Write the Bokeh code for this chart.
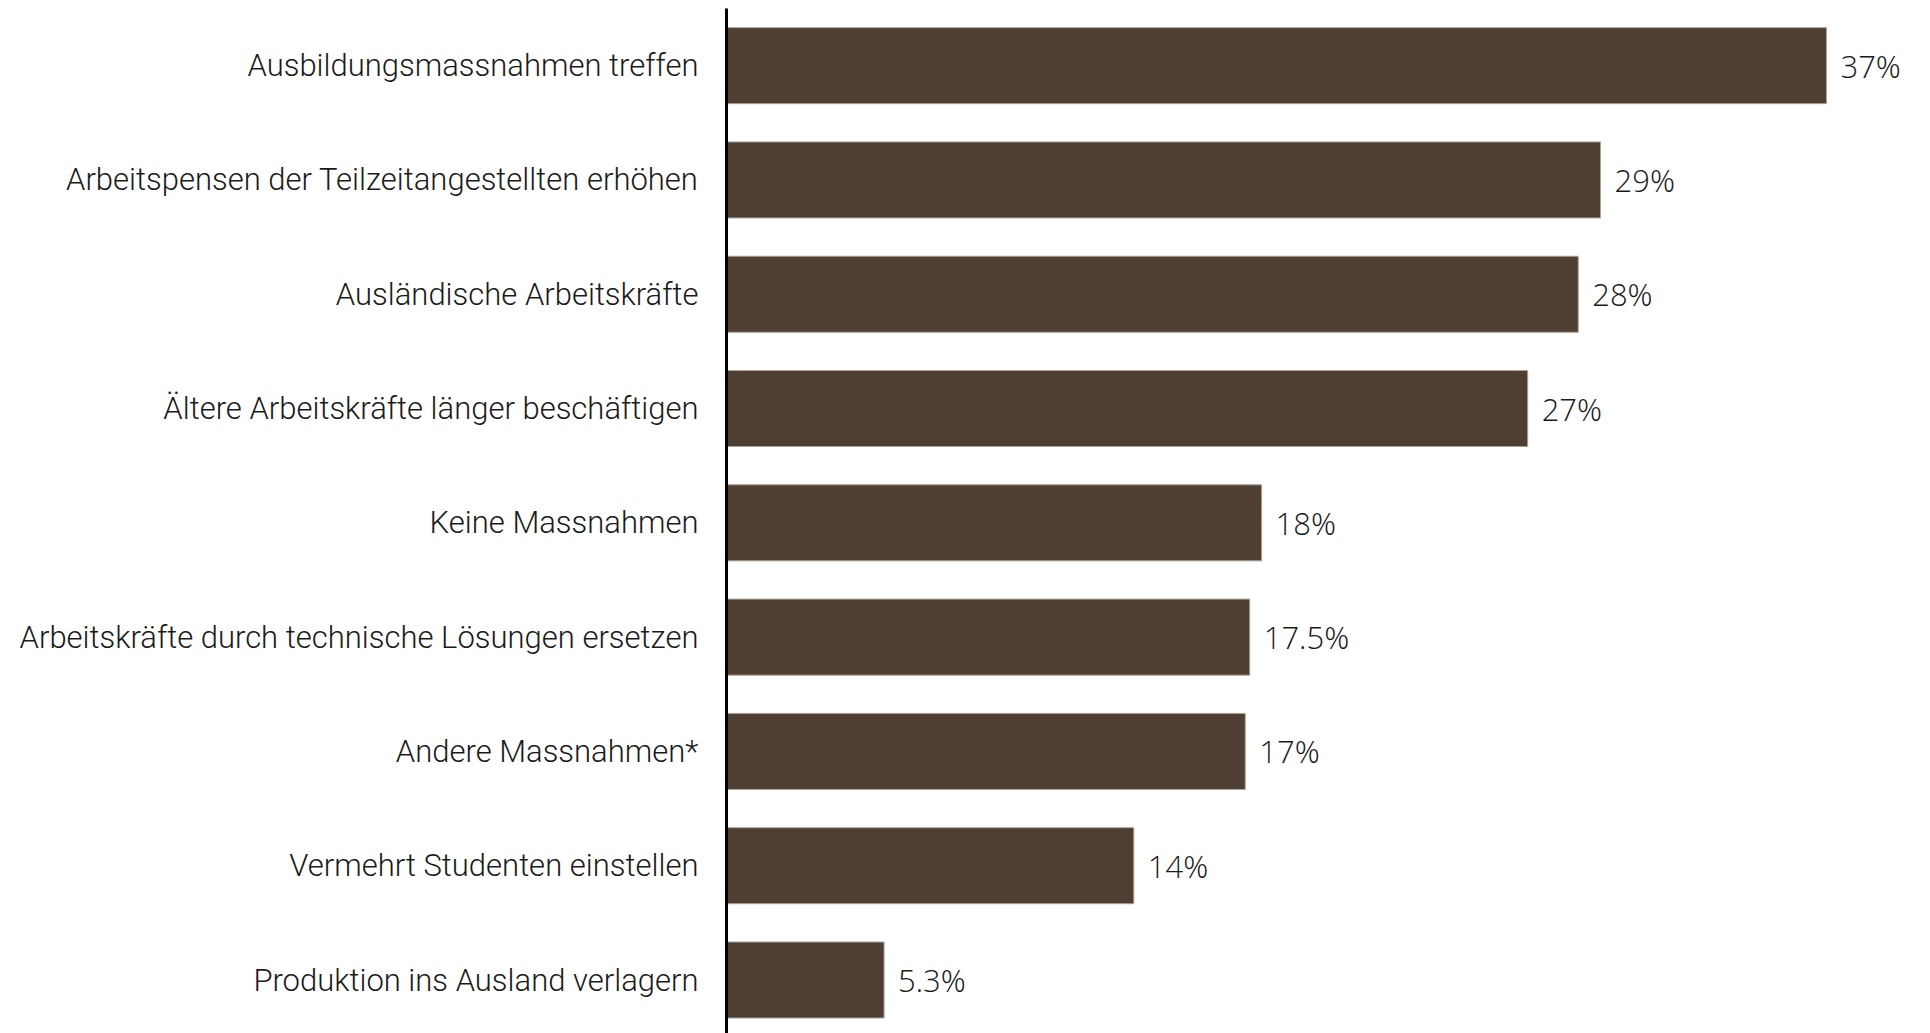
from bokeh.plotting import figure
from bokeh.models import Range1d, FixedTicker, ColumnDataSource, LabelSet
from bokeh.core.properties import value
from bokeh.embed import file_html
from bokeh.resources import INLINE

categories = [
    "Ausbildungsmassnahmen treffen",
    "Arbeitspensen der Teilzeitangestellten erhöhen",
    "Ausländische Arbeitskräfte",
    "Ältere Arbeitskräfte länger beschäftigen",
    "Keine Massnahmen",
    "Arbeitskräfte durch technische Lösungen ersetzen",
    "Andere Massnahmen*",
    "Vermehrt Studenten einstellen",
    "Produktion ins Ausland verlagern",
]
values = [37.0, 29.4, 28.65, 26.95, 18.0, 17.6, 17.45, 13.7, 5.3]
value_labels = ["37%", "29%", "28%", "27%", "18%", "17.5%", "17%", "14%", "5.3%"]

positions = list(range(len(categories)))

src = ColumnDataSource(dict(y=positions, v=values, lab=value_labels))

W, H = 1930, 1033
p = figure(width=W, height=H, output_backend="svg", toolbar_location=None,
           x_range=Range1d(0, 40.50), y_range=Range1d(8.468, -0.5),
           min_border_left=726, min_border_right=0, min_border_top=8, min_border_bottom=0)

p.hbar(y="y", left=0, right="v", height=0.665, source=src,
       fill_color="#4f3e32", line_color="#aaa097", line_width=1)

labels = LabelSet(x="v", y="y", text="lab", source=src, x_offset=14,
                  text_baseline="middle", text_align="left",
                  text_font=value("Open Sans Light, Open Sans"), text_font_size="31px",
                  text_color="#1a1a1a")
p.add_layout(labels)

p.xaxis.visible = False
p.xgrid.visible = False
p.ygrid.visible = False
p.outline_line_color = None

ax = p.yaxis[0]
ax.ticker = FixedTicker(ticks=positions)
ax.major_label_overrides = {i: c for i, c in zip(positions, categories)}
ax.axis_line_color = "black"
ax.axis_line_width = 3
ax.major_tick_line_color = None
ax.minor_tick_line_color = None
ax.major_tick_out = 0
ax.major_tick_in = 0
ax.major_label_standoff = 28
ax.major_label_text_font = "Roboto Light, Roboto"
ax.major_label_text_font_size = "31px"
ax.major_label_text_color = "#1a1a1a"

open("out.html", "w").write(file_html(p, INLINE))
